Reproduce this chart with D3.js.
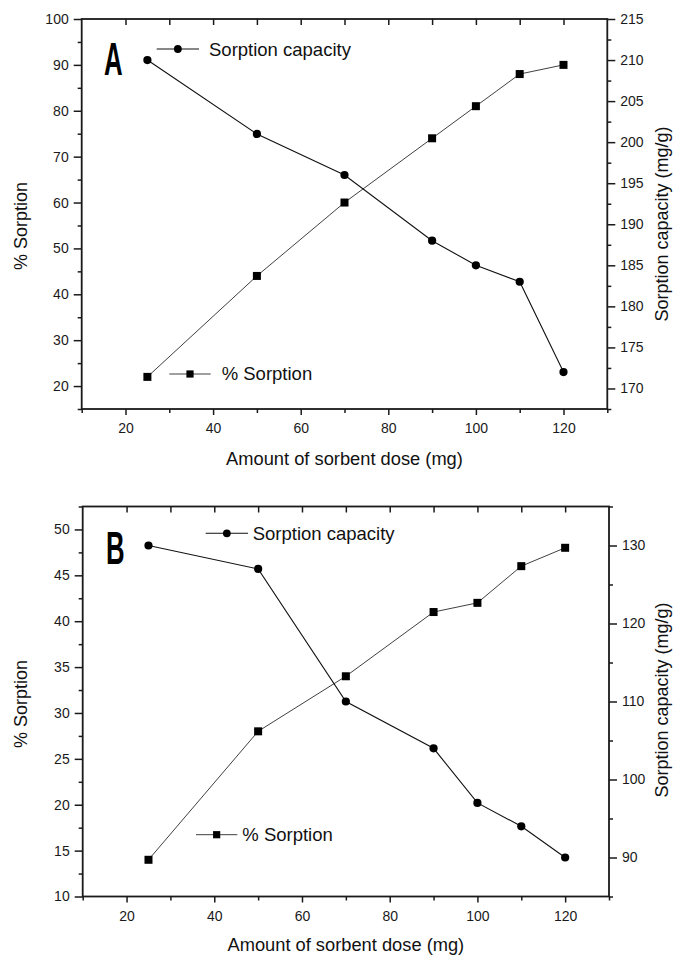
<!DOCTYPE html>
<html>
<head>
<meta charset="utf-8">
<script src="https://cdn.jsdelivr.net/npm/d3@7"></script>
<style>
  html, body { margin: 0; padding: 0; background: #fff; }
  svg { display: block; font-family: "Liberation Sans", Arial, Helvetica, sans-serif; }
</style>
</head>
<body>
<svg id="chart" width="674" height="956"></svg>
<script>
// Sorbent dose (mg) shared by both panels
const doses = [25, 50, 70, 90, 100, 110, 120];

// Panel A
const sorptionPctA = [22, 44, 60, 74, 81, 88, 90];
const capacityA = [210, 201, 196, 188, 185, 183, 172];

// Panel B
const sorptionPctB = [14, 28, 34, 41, 42, 46, 48];
const capacityB = [130, 127, 110, 104, 97, 94, 90];

// Tick labels
const xTickLabels = [20, 40, 60, 80, 100, 120];
const leftTicksA = [20, 30, 40, 50, 60, 70, 80, 90, 100];
const rightTicksA = [170, 175, 180, 185, 190, 195, 200, 205, 210, 215];
const leftTicksB = [10, 15, 20, 25, 30, 35, 40, 45, 50];
const rightTicksB = [90, 100, 110, 120, 130];

const svg = d3.select("#chart");

const panels = [
  {
    letter: "A",
    box: { left: 81.7, right: 607.3, top: 19, bottom: 409 },
    leftDomain: [15, 100], leftTicks: leftTicksA, leftMinorStep: 5,
    rightDomain: [167.5, 215], rightTicks: rightTicksA, rightMinorStep: 2.5,
    pct: sorptionPctA, cap: capacityA,
    letterPos: [104, 75],
    capLegend: { x1: 156.7, x2: 199, y: 49, tx: 209, ty: 56 },
    pctLegend: { x1: 169.3, x2: 210.7, y: 374, tx: 221.7, ty: 380 },
    leftTitleY: 226, rightTitleY: 224, xTitleY: 465
  },
  {
    letter: "B",
    box: { left: 82.7, right: 609, top: 506.5, bottom: 896.5 },
    leftDomain: [10, 52.5], leftTicks: leftTicksB, leftMinorStep: 2.5,
    rightDomain: [85, 135], rightTicks: rightTicksB, rightMinorStep: 5,
    pct: sorptionPctB, cap: capacityB,
    letterPos: [106, 564],
    capLegend: { x1: 205.7, x2: 248, y: 533.3, tx: 252.7, ty: 540 },
    pctLegend: { x1: 196, x2: 237.3, y: 834.7, tx: 242.3, ty: 840.7 },
    leftTitleY: 704, rightTitleY: 700, xTitleY: 951
  }
];

const axisColor = "#1a1a1a";

function styleAxis(g) {
  g.select(".domain").remove();
  g.selectAll(".tick line").attr("stroke", axisColor).attr("stroke-width", 1.5);
  g.selectAll(".tick text")
    .attr("fill", "#1a1a1a")
    .style("font-size", "14px")
    .style("font-family", "'Liberation Sans', Arial, Helvetica, sans-serif");
}

function minorValues(domain, step, majors) {
  const vals = [];
  for (let v = domain[0]; v <= domain[1] + 1e-9; v += step) {
    const r = Math.round(v * 100) / 100;
    if (!majors.some(m => Math.abs(m - r) < 1e-6)) vals.push(r);
  }
  return vals;
}

panels.forEach(p => {
  const b = p.box;
  const x = d3.scaleLinear().domain([10, 130]).range([b.left, b.right]);
  const yL = d3.scaleLinear().domain(p.leftDomain).range([b.bottom, b.top]);
  const yR = d3.scaleLinear().domain(p.rightDomain).range([b.bottom, b.top]);

  const g = svg.append("g");

  // Bottom axis: labelled majors and short minors
  const xMinor = minorValues([10, 130], 10, xTickLabels);
  g.append("g").attr("transform", `translate(0,${b.bottom})`)
    .call(d3.axisBottom(x).tickValues(xTickLabels).tickSize(6).tickFormat(d3.format("d")))
    .call(styleAxis)
    .call(a => a.selectAll(".tick text").attr("y", 24).attr("dy", null));
  g.append("g").attr("transform", `translate(0,${b.bottom})`)
    .call(d3.axisBottom(x).tickValues(xMinor).tickSize(4).tickFormat(""))
    .call(styleAxis);

  // Top axis: inward ticks only
  g.append("g").attr("transform", `translate(0,${b.top})`)
    .call(d3.axisTop(x).tickValues(d3.range(20, 130, 10)).tickSize(-6).tickFormat(""))
    .call(styleAxis);

  // Left axis
  g.append("g").attr("transform", `translate(${b.left},0)`)
    .call(d3.axisLeft(yL).tickValues(p.leftTicks).tickSize(8).tickFormat(d3.format("d")))
    .call(styleAxis)
    .call(a => a.selectAll(".tick text").attr("x", -13));
  g.append("g").attr("transform", `translate(${b.left},0)`)
    .call(d3.axisLeft(yL).tickValues(minorValues(p.leftDomain, p.leftMinorStep, p.leftTicks)).tickSize(4).tickFormat(""))
    .call(styleAxis);

  // Right axis
  g.append("g").attr("transform", `translate(${b.right},0)`)
    .call(d3.axisRight(yR).tickValues(p.rightTicks).tickSize(8).tickFormat(d3.format("d")))
    .call(styleAxis)
    .call(a => a.selectAll(".tick text").attr("x", 13));
  g.append("g").attr("transform", `translate(${b.right},0)`)
    .call(d3.axisRight(yR).tickValues(minorValues(p.rightDomain, p.rightMinorStep, p.rightTicks)).tickSize(4).tickFormat(""))
    .call(styleAxis);

  // Frame
  g.append("rect")
    .attr("x", b.left).attr("y", b.top)
    .attr("width", b.right - b.left).attr("height", b.bottom - b.top)
    .attr("fill", "none").attr("stroke", axisColor).attr("stroke-width", 1.8);

  // % Sorption series (squares, left axis)
  const pctLine = d3.line().x((d, i) => x(doses[i])).y(d => yL(d));
  g.append("path").datum(p.pct)
    .attr("d", pctLine).attr("fill", "none")
    .attr("stroke", "#2a2a2a").attr("stroke-width", 0.9);
  g.selectAll(".sq").data(p.pct).enter().append("rect")
    .attr("x", (d, i) => x(doses[i]) - 4).attr("y", d => yL(d) - 4)
    .attr("width", 8).attr("height", 8).attr("fill", "#000");

  // Sorption capacity series (circles, right axis)
  const capLine = d3.line().x((d, i) => x(doses[i])).y(d => yR(d));
  g.append("path").datum(p.cap)
    .attr("d", capLine).attr("fill", "none")
    .attr("stroke", "#111").attr("stroke-width", 1.1);
  g.selectAll(".ci").data(p.cap).enter().append("circle")
    .attr("cx", (d, i) => x(doses[i])).attr("cy", d => yR(d))
    .attr("r", 4.1).attr("fill", "#000");

  // Legends
  const cl = p.capLegend;
  g.append("line").attr("x1", cl.x1).attr("x2", cl.x2).attr("y1", cl.y).attr("y2", cl.y)
    .attr("stroke", "#111").attr("stroke-width", 1.1);
  g.append("circle").attr("cx", (cl.x1 + cl.x2) / 2).attr("cy", cl.y).attr("r", 3.9).attr("fill", "#000");
  g.append("text").attr("x", cl.tx).attr("y", cl.ty)
    .style("font-size", "18.5px").attr("fill", "#111").text("Sorption capacity");

  const pl = p.pctLegend;
  g.append("line").attr("x1", pl.x1).attr("x2", pl.x2).attr("y1", pl.y).attr("y2", pl.y)
    .attr("stroke", "#2a2a2a").attr("stroke-width", 0.9);
  g.append("rect").attr("x", (pl.x1 + pl.x2) / 2 - 3.6).attr("y", pl.y - 3.6)
    .attr("width", 7.2).attr("height", 7.2).attr("fill", "#000");
  g.append("text").attr("x", pl.tx).attr("y", pl.ty)
    .style("font-size", "18.5px").attr("fill", "#111").text("% Sorption");

  // Panel letter (bold, condensed)
  g.append("text")
    .attr("transform", `translate(${p.letterPos[0]},${p.letterPos[1]}) scale(0.56,1)`)
    .style("font-size", "46px").style("font-weight", "bold")
    .attr("fill", "#000").text(p.letter);

  // Axis titles
  g.append("text")
    .attr("transform", `translate(27,${p.leftTitleY}) rotate(-90)`)
    .attr("text-anchor", "middle").style("font-size", "18px").attr("fill", "#111")
    .text("% Sorption");
  g.append("text")
    .attr("transform", `translate(668,${p.rightTitleY}) rotate(-90)`)
    .attr("text-anchor", "middle").style("font-size", "18px").attr("fill", "#111")
    .text("Sorption capacity (mg/g)");
  g.append("text")
    .attr("x", (b.left + b.right) / 2).attr("y", p.xTitleY)
    .attr("text-anchor", "middle").style("font-size", "18.3px").attr("fill", "#111")
    .text("Amount of sorbent dose (mg)");
});
</script>
</body>
</html>
